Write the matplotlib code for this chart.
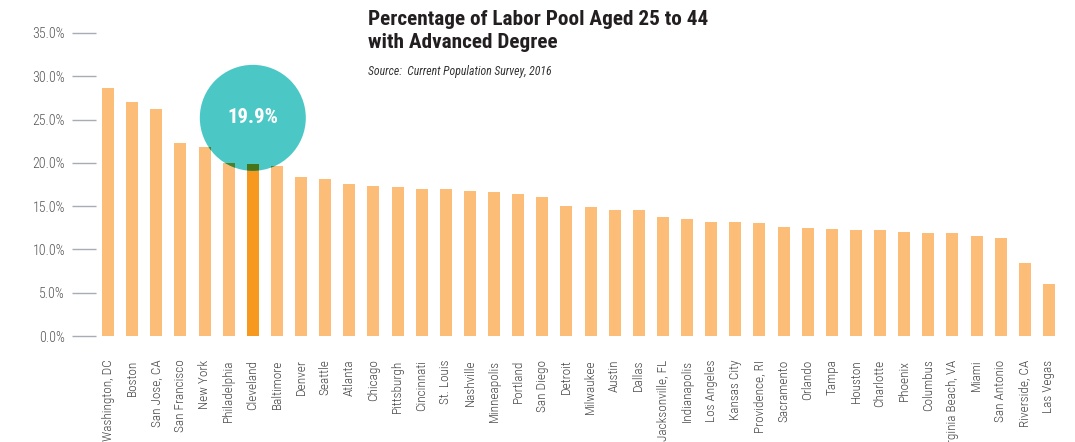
import matplotlib
matplotlib.use("Agg")
import matplotlib.pyplot as plt
from matplotlib.patches import Circle
from matplotlib.transforms import ScaledTranslation
from matplotlib import font_manager

cities = ["Washington, DC", "Boston", "San Jose, CA", "San Francisco", "New York",
          "Philadelphia", "Cleveland", "Baltimore", "Denver", "Seattle", "Atlanta",
          "Chicago", "Pittsburgh", "Cincinnati", "St. Louis", "Nashville", "Minneapolis",
          "Portland", "San Diego", "Detroit", "Milwaukee", "Austin", "Dallas",
          "Jacksonville, FL", "Indianapolis", "Los Angeles", "Kansas City", "Providence, RI",
          "Sacramento", "Orlando", "Tampa", "Houston", "Charlotte", "Phoenix", "Columbus",
          "Virginia Beach, VA", "Miami", "San Antonio", "Riverside, CA", "Las Vegas"]
values = [28.6, 27.0, 26.2, 22.3, 21.8, 20.0, 19.9, 19.6, 18.4, 18.1, 17.6,
          17.3, 17.2, 17.0, 17.0, 16.7, 16.6, 16.4, 16.0, 15.0, 14.9, 14.5, 14.5,
          13.7, 13.5, 13.2, 13.2, 13.0, 12.6, 12.5, 12.4, 12.2, 12.2, 12.0, 11.9,
          11.9, 11.5, 11.3, 8.4, 6.0]
highlight = "Cleveland"
yticks = [0, 5, 10, 15, 20, 25, 30, 35]
ytick_labels = ["0.0%", "5.0%", "10.0%", "15.0%", "20.0%", "25.0%", "30.0%", "35.0%"]
title = "Percentage of Labor Pool Aged 25 to 44\nwith Advanced Degree"
subtitle = "Source:  Current Population Survey, 2016"
callout = "19.9%"

avail = {f.name for f in font_manager.fontManager.ttflist}
cond = "Liberation Sans"
for cand in ["Roboto Condensed", "Archivo Narrow", "PT Sans Narrow",
             "Liberation Sans Narrow", "Pragati Narrow", "Asap Condensed"]:
    if cand in avail:
        cond = cand
        break
plt.rcParams['font.family'] = [cond, 'DejaVu Sans']

light = "#FBBD78"
dark = "#F7991F"
teal = "#4BC8C6"

W, H = 1075, 442
fig = plt.figure(figsize=(W / 100, H / 100), dpi=100)
ax = fig.add_axes([96 / W, (H - 336) / H, (1061 - 96) / W, 303 / H])

x = list(range(len(cities)))
colors = [dark if c == highlight else light for c in cities]
ax.bar(x, values, width=0.5, color=colors, zorder=2)

ax.set_xlim(-0.5, len(cities) - 0.5)
ax.set_ylim(0, 35)
ax.set_yticks(yticks)
ax.set_yticklabels(ytick_labels)
ax.set_xticks(x)
ax.set_xticklabels(cities, rotation=90, va="top", ha="center")
for s in ax.spines.values():
    s.set_visible(False)
ax.tick_params(axis="y", length=17.3, width=1.0, color="#a7adb3", pad=5,
               labelsize=10, labelcolor="#555555")
ax.tick_params(axis="x", length=0, pad=17, labelsize=9.5, labelcolor="#444444")
for lab in ax.get_yticklabels() + ax.get_xticklabels():
    lab.set_fontweight("light")

# callout circle, centred over the highlighted bar
hi = cities.index(highlight)
offset = ScaledTranslation(hi, 25.2, ax.transData)
circ = Circle((0, 0), radius=0.53, transform=fig.dpi_scale_trans + offset,
              facecolor=teal, edgecolor="none", zorder=3)
ax.add_patch(circ)
ax.text(hi, 25.2, callout, ha="center", va="center", color="white",
        fontsize=15, fontweight="bold", zorder=5)

# overlap of bars with circle (darker blend)
over_colors = ["#477419" if c == highlight else "#4c7f2c" for c in cities]
over = ax.bar(x, values, width=0.5, color=over_colors, zorder=4)
clip = Circle((0, 0), radius=0.53, transform=fig.dpi_scale_trans + offset)
for b in over:
    b.set_clip_path(clip)

fig.text(368 / W, 1 - 10 / H, title, ha="left", va="top", fontsize=15.3,
         fontweight="bold", color="#231f20", linespacing=1.3)
fig.text(368 / W, 1 - 71 / H, subtitle, ha="left", va="center", fontsize=8.5,
         style="italic", color="#333333")

fig.savefig("out.png", dpi=100)
